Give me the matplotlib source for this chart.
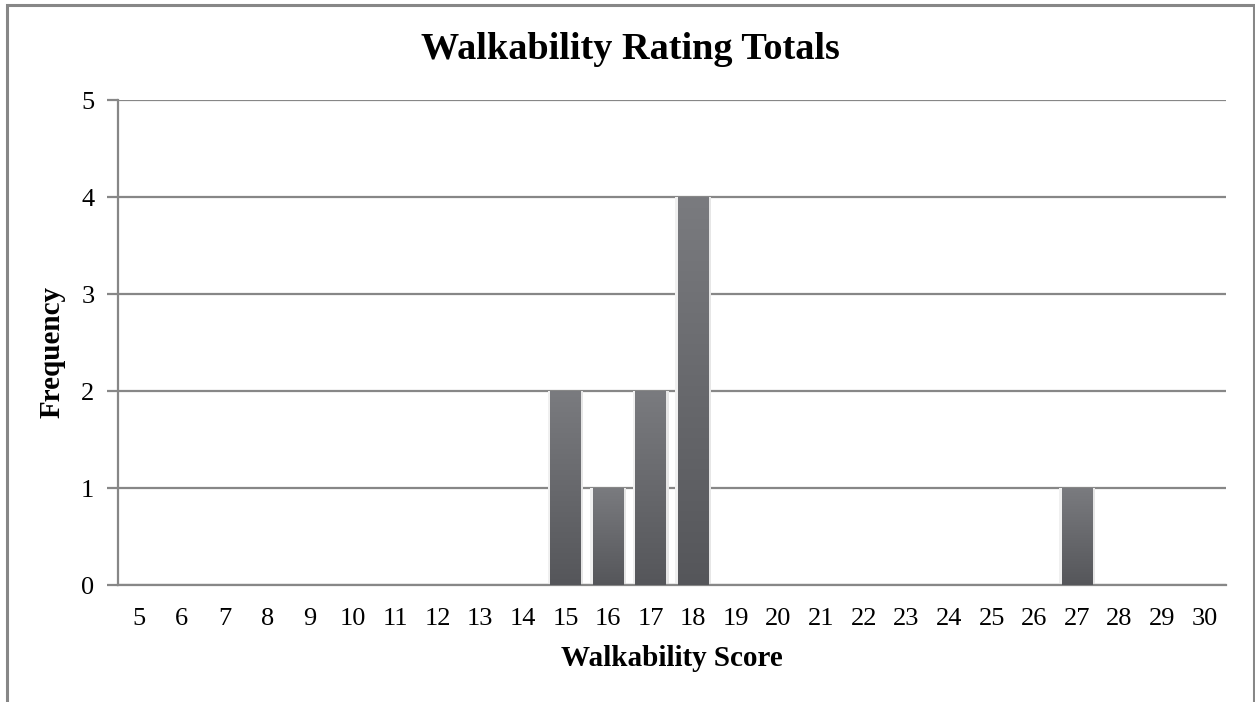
import matplotlib
matplotlib.use("Agg")
import matplotlib.pyplot as plt
import numpy as np
from matplotlib.patches import Rectangle
from matplotlib.colors import LinearSegmentedColormap

scores = list(range(5, 31))
freq = [0]*10 + [2, 1, 2, 4] + [0]*8 + [1, 0, 0, 0]
y_ticks = [0, 1, 2, 3, 4, 5]

plt.rcParams['font.family'] = ['Liberation Serif', 'DejaVu Serif']

W, H = 1255, 702
fig = plt.figure(figsize=(W/100, H/100), dpi=100)
ax = fig.add_axes([118/W, 1-585/H, (1226-118)/W, (585-100)/H])

# outer chart border (bottom cut off)
fig.patches.append(Rectangle((7/W, -0.05), (1254-7)/W, (1-5/H)+0.05, transform=fig.transFigure,
                             fill=False, edgecolor='#878787', linewidth=2.2))

x = np.arange(len(scores))
bars = ax.bar(x, freq, width=0.72, color='#66676b', zorder=3, linewidth=0)
cmap = LinearSegmentedColormap.from_list('g', ['#55565a', '#7a7b7f'])
grad = np.linspace(0, 1, 256).reshape(-1, 1)
for b in bars:
    h = b.get_height()
    if h <= 0:
        continue
    x0 = b.get_x(); w = b.get_width()
    # soft shadow
    ax.add_patch(Rectangle((x0 + w, 0), 0.06, h, color='#e6e6e6', zorder=2, linewidth=0))
    ax.add_patch(Rectangle((x0 - 0.06, 0), 0.06, h, color='#f0f0f0', zorder=2, linewidth=0))
    b.set_alpha(0)
    ax.imshow(grad, extent=(x0, x0 + w, 0, h), origin='lower', cmap=cmap, aspect='auto', zorder=3)

ax.set_xlim(-0.5, len(scores) - 0.5)
ax.set_ylim(0, 5)
ax.set_yticks(y_ticks)
ax.set_xticks(x)
ax.set_xticklabels([str(s) for s in scores])
ax.grid(axis='y', color='#878787', linewidth=1.6, zorder=1)
ax.set_axisbelow(True)
for s in ['top', 'right']:
    ax.spines[s].set_visible(False)
for s in ['left', 'bottom']:
    ax.spines[s].set_color('#878787')
    ax.spines[s].set_linewidth(1.6)
ax.tick_params(axis='y', length=8, width=1.6, color='#878787', labelsize=19, pad=9)
ax.tick_params(axis='x', length=0, labelsize=19, pad=16.5)

fig.text(672/W, 1 - 666/H, 'Walkability Score', ha='center', va='baseline',
         fontsize=21, fontweight='bold')
fig.text(52/W, 1 - 352/H, 'Frequency', ha='center', va='center', rotation=90,
         fontsize=21, fontweight='bold')
fig.text(630.5/W, 1 - 59/H, 'Walkability Rating Totals', ha='center', va='baseline',
         fontsize=27.5, fontweight='bold')

fig.savefig('out.png', dpi=100)
